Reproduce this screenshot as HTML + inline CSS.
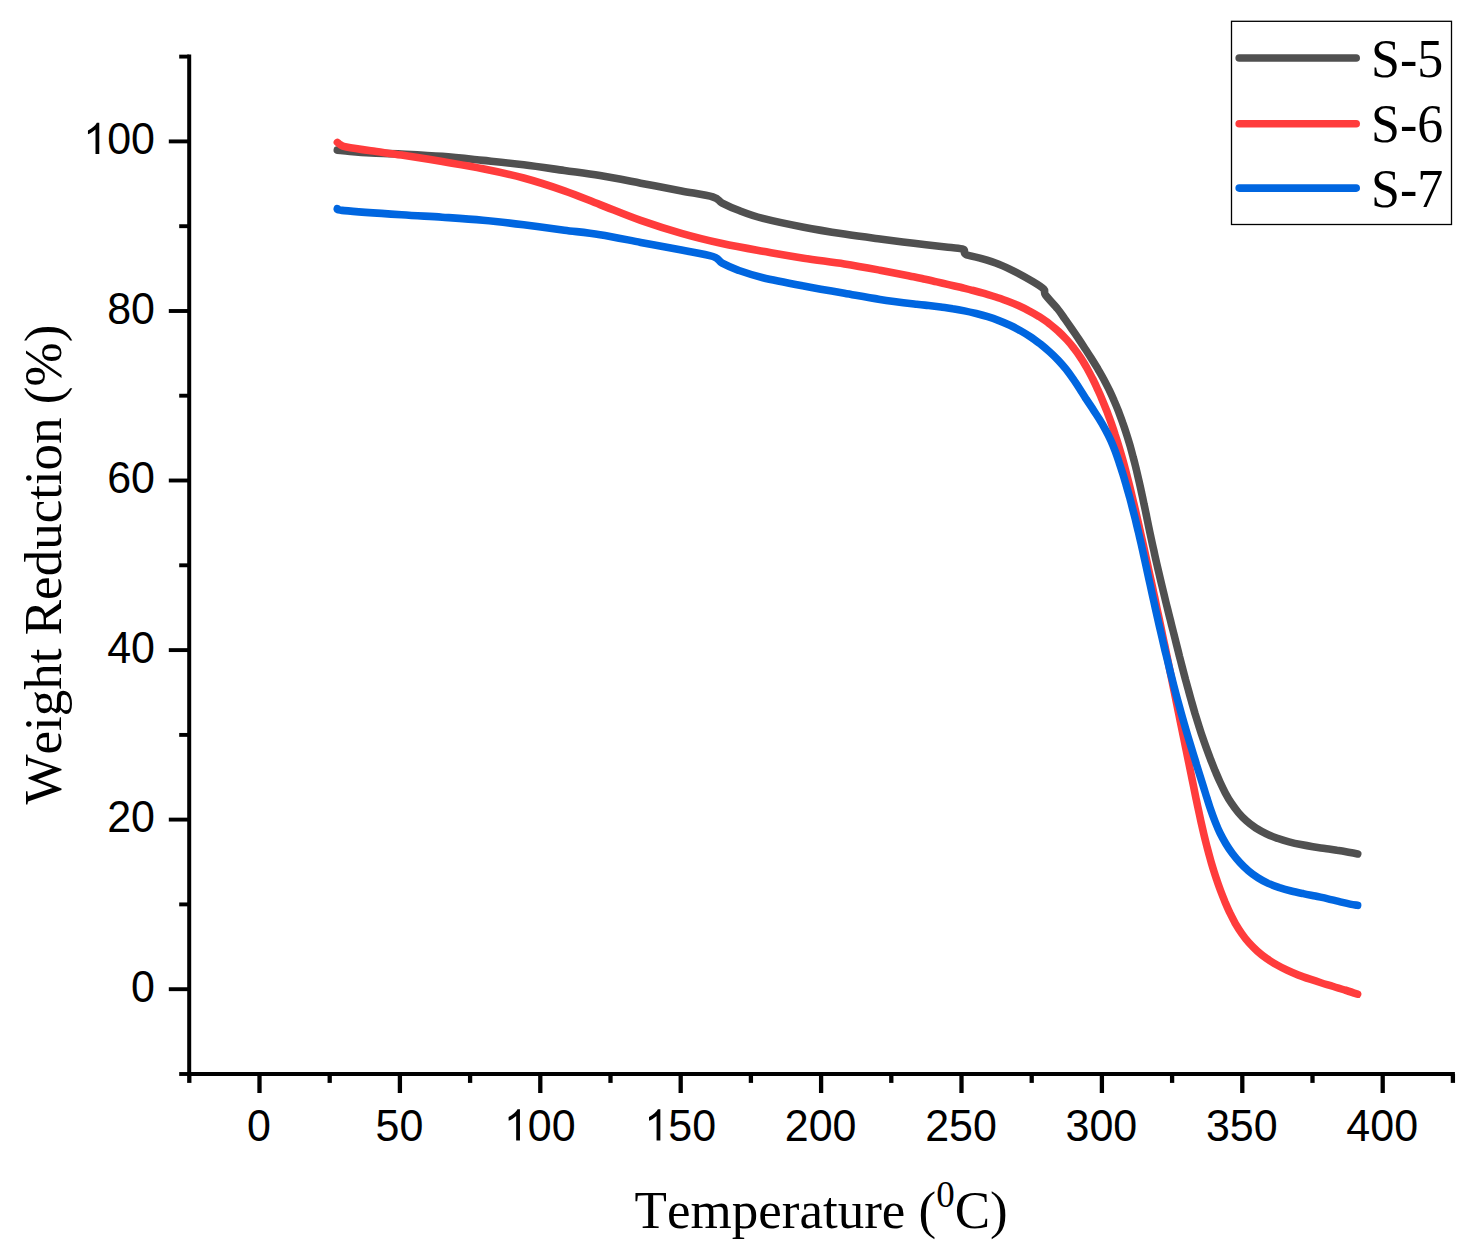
<!DOCTYPE html>
<html><head><meta charset="utf-8"><title>TGA</title>
<style>html,body{margin:0;padding:0;background:#fff}body{width:1473px;height:1253px;overflow:hidden;font-family:"Liberation Sans",sans-serif}svg{display:block;position:absolute;left:0;top:0}</style>
</head><body>
<svg width="1473" height="1253" viewBox="0 0 1473 1253">
<rect width="1473" height="1253" fill="#fff"/>
<g fill="none" stroke-width="7.6" stroke-linecap="round" stroke-linejoin="round">
<path stroke="#505050" d="M337.3,150.1 C339.4,150.3 344.4,151.0 350.0,151.5 C355.6,152.0 362.3,152.6 370.9,153.0 C379.5,153.4 389.6,153.4 401.5,154.0 C413.4,154.6 428.6,155.3 442.2,156.4 C455.8,157.5 469.3,159.0 482.9,160.4 C496.5,161.8 510.1,163.1 523.7,164.8 C537.3,166.5 551.7,168.7 564.4,170.5 C577.1,172.3 587.3,173.5 600.0,175.6 C612.7,177.7 627.1,180.6 640.7,183.2 C654.3,185.8 669.5,188.6 681.5,190.9 C693.5,193.2 706.2,195.0 713.0,197.0 C719.8,199.0 718.0,200.9 722.2,203.1 C726.5,205.3 731.7,207.8 738.5,210.3 C745.3,212.9 752.0,215.6 762.9,218.4 C773.8,221.2 790.1,224.6 803.7,227.2 C817.3,229.8 831.7,232.1 844.4,234.1 C857.1,236.1 868.4,237.5 880.0,239.0 C891.6,240.5 902.6,241.9 913.9,243.3 C925.2,244.7 939.7,246.2 947.9,247.2 C956.1,248.2 960.2,248.0 963.2,249.2 C966.2,250.4 962.6,252.7 965.7,254.3 C968.8,255.9 976.3,257.0 981.8,258.6 C987.3,260.2 993.1,261.9 998.8,264.2 C1004.5,266.4 1010.1,269.2 1015.8,272.1 C1021.4,275.0 1028.0,278.7 1032.7,281.5 C1037.4,284.3 1041.7,286.9 1043.8,289.1 C1045.9,291.4 1043.2,291.7 1045.5,295.0 C1047.8,298.3 1054.5,305.0 1057.7,309.0 C1060.9,312.9 1062.3,315.4 1064.6,318.7 C1066.9,321.9 1069.2,325.2 1071.5,328.5 C1073.8,331.8 1076.0,335.1 1078.3,338.4 C1080.5,341.8 1082.7,345.1 1084.9,348.5 C1087.1,351.8 1089.3,355.2 1091.5,358.6 C1093.6,362.0 1095.7,365.4 1097.8,368.8 C1099.8,372.3 1101.8,375.7 1103.7,379.2 C1105.6,382.7 1107.4,386.3 1109.2,389.9 C1110.9,393.5 1112.6,397.1 1114.1,400.8 C1115.7,404.4 1117.2,408.1 1118.7,411.8 C1120.1,415.5 1121.5,419.3 1122.8,423.1 C1124.2,426.8 1125.4,430.6 1126.6,434.4 C1127.8,438.2 1129.0,442.0 1130.1,445.8 C1131.2,449.7 1132.2,453.5 1133.2,457.4 C1134.3,461.2 1135.2,465.1 1136.2,469.0 C1137.1,472.9 1138.0,476.8 1138.9,480.7 C1139.8,484.6 1140.7,488.5 1141.5,492.4 C1142.4,496.3 1143.2,500.2 1144.0,504.2 C1144.9,508.1 1145.7,512.0 1146.5,515.9 C1147.3,519.9 1148.1,523.8 1148.9,527.7 C1149.7,531.7 1150.6,535.6 1151.4,539.5 C1152.2,543.4 1153.1,547.3 1154.0,551.2 C1154.8,555.2 1155.7,559.1 1156.6,563.0 C1157.5,566.9 1158.4,570.8 1159.3,574.7 C1160.2,578.6 1161.1,582.5 1162.1,586.4 C1163.0,590.2 1164.0,594.1 1164.9,598.0 C1165.8,601.9 1166.8,605.8 1167.8,609.7 C1168.7,613.5 1169.7,617.4 1170.7,621.3 C1171.6,625.2 1172.6,629.0 1173.6,632.9 C1174.6,636.8 1175.5,640.6 1176.5,644.5 C1177.5,648.4 1178.5,652.2 1179.4,656.1 C1180.4,660.0 1181.4,663.8 1182.4,667.7 C1183.4,671.6 1184.4,675.4 1185.4,679.3 C1186.5,683.1 1187.5,687.0 1188.6,690.8 C1189.6,694.7 1190.7,698.5 1191.8,702.4 C1192.9,706.2 1194.0,710.0 1195.1,713.9 C1196.3,717.7 1197.5,721.5 1198.7,725.3 C1199.9,729.1 1201.1,733.0 1202.4,736.8 C1203.7,740.6 1205.0,744.4 1206.4,748.1 C1207.8,751.9 1209.2,755.7 1210.6,759.5 C1212.1,763.3 1213.6,767.0 1215.1,770.8 C1216.7,774.5 1218.3,778.3 1220.0,782.0 C1221.7,785.7 1223.4,789.3 1225.3,792.9 C1227.2,796.4 1229.2,799.9 1231.4,803.2 C1233.6,806.5 1235.9,809.6 1238.4,812.6 C1240.9,815.6 1243.6,818.4 1246.5,820.9 C1249.4,823.5 1252.5,825.8 1255.8,828.0 C1259.1,830.1 1262.6,832.0 1266.2,833.7 C1269.8,835.4 1273.6,837.0 1277.4,838.3 C1281.2,839.7 1285.1,840.9 1289.0,841.9 C1292.9,842.9 1296.9,843.8 1300.9,844.6 C1304.9,845.4 1308.9,846.1 1312.9,846.7 C1317.0,847.4 1321.0,847.9 1325.0,848.5 C1329.0,849.1 1333.0,849.6 1336.9,850.3 C1340.8,850.9 1345.0,851.6 1348.5,852.2 C1352.0,852.8 1356.2,853.6 1357.7,853.9"/>
<path stroke="#ff3c3c" d="M337.4,142.4 C337.9,142.8 339.0,144.0 340.5,144.8 C342.0,145.6 341.4,146.0 346.5,147.0 C351.6,148.0 361.7,149.5 370.9,150.8 C380.1,152.2 389.6,153.3 401.5,155.1 C413.4,156.9 428.6,159.3 442.2,161.6 C455.8,163.9 469.3,166.0 482.9,168.7 C496.5,171.4 510.1,174.3 523.7,178.0 C537.3,181.7 551.7,186.4 564.4,190.8 C577.1,195.2 587.3,199.7 600.0,204.6 C612.7,209.5 627.1,215.6 640.7,220.4 C654.3,225.2 667.9,229.5 681.5,233.3 C695.1,237.2 708.6,240.5 722.2,243.5 C735.8,246.5 749.3,248.8 762.9,251.2 C776.5,253.6 790.1,256.1 803.7,258.2 C817.3,260.3 831.7,262.0 844.4,264.0 C857.1,266.0 868.5,268.1 880.0,270.2 C891.5,272.3 906.1,275.3 913.6,276.8 C921.1,278.3 921.4,278.5 925.2,279.3 C929.1,280.2 933.0,281.1 936.9,281.9 C940.8,282.8 944.7,283.7 948.6,284.6 C952.6,285.5 956.5,286.4 960.5,287.3 C964.4,288.3 968.4,289.2 972.3,290.3 C976.3,291.3 980.2,292.3 984.1,293.4 C988.0,294.6 991.9,295.7 995.8,297.0 C999.6,298.2 1003.4,299.6 1007.2,301.0 C1010.9,302.4 1014.7,303.9 1018.3,305.5 C1022.0,307.2 1025.5,308.9 1029.0,310.8 C1032.5,312.6 1036.0,314.6 1039.3,316.7 C1042.6,318.9 1045.9,321.1 1049.0,323.5 C1052.2,325.9 1055.2,328.5 1058.2,331.1 C1061.1,333.8 1063.9,336.6 1066.6,339.5 C1069.3,342.4 1071.8,345.4 1074.2,348.6 C1076.7,351.7 1078.9,355.0 1081.1,358.4 C1083.3,361.7 1085.3,365.2 1087.3,368.7 C1089.2,372.2 1091.1,375.7 1092.9,379.3 C1094.7,382.9 1096.4,386.5 1098.0,390.2 C1099.7,393.8 1101.3,397.5 1102.8,401.2 C1104.3,404.9 1105.8,408.6 1107.3,412.3 C1108.7,416.0 1110.1,419.8 1111.4,423.6 C1112.7,427.3 1114.0,431.1 1115.2,434.9 C1116.5,438.7 1117.7,442.5 1118.8,446.3 C1120.0,450.2 1121.1,454.0 1122.2,457.9 C1123.3,461.7 1124.3,465.6 1125.4,469.5 C1126.4,473.3 1127.4,477.2 1128.4,481.1 C1129.4,485.0 1130.3,488.9 1131.3,492.8 C1132.2,496.7 1133.1,500.6 1134.1,504.5 C1135.0,508.4 1135.9,512.3 1136.8,516.2 C1137.7,520.1 1138.6,524.0 1139.5,527.9 C1140.4,531.8 1141.2,535.7 1142.1,539.6 C1143.0,543.5 1143.9,547.4 1144.7,551.3 C1145.6,555.3 1146.4,559.2 1147.3,563.1 C1148.1,567.0 1149.0,570.9 1149.8,574.8 C1150.7,578.7 1151.5,582.6 1152.4,586.5 C1153.2,590.4 1154.0,594.3 1154.9,598.2 C1155.7,602.1 1156.5,606.0 1157.3,609.9 C1158.1,613.9 1159.0,617.8 1159.8,621.7 C1160.6,625.6 1161.4,629.5 1162.2,633.4 C1163.0,637.3 1163.8,641.2 1164.7,645.1 C1165.5,649.0 1166.3,652.9 1167.1,656.8 C1167.9,660.8 1168.7,664.7 1169.5,668.6 C1170.3,672.5 1171.1,676.4 1171.9,680.3 C1172.7,684.2 1173.5,688.1 1174.3,692.0 C1175.1,696.0 1175.9,699.9 1176.7,703.8 C1177.5,707.7 1178.3,711.6 1179.1,715.5 C1179.9,719.4 1180.7,723.4 1181.5,727.3 C1182.3,731.2 1183.1,735.1 1183.9,739.0 C1184.7,742.9 1185.5,746.9 1186.3,750.8 C1187.1,754.7 1187.9,758.6 1188.7,762.5 C1189.5,766.5 1190.3,770.4 1191.1,774.3 C1191.9,778.2 1192.7,782.2 1193.5,786.1 C1194.3,790.0 1195.1,794.0 1195.9,797.9 C1196.7,801.8 1197.5,805.8 1198.4,809.7 C1199.2,813.6 1200.1,817.5 1200.9,821.4 C1201.8,825.4 1202.7,829.3 1203.6,833.2 C1204.5,837.1 1205.5,841.0 1206.5,844.9 C1207.5,848.7 1208.5,852.6 1209.6,856.5 C1210.6,860.3 1211.7,864.2 1212.9,868.0 C1214.1,871.8 1215.3,875.7 1216.6,879.4 C1217.8,883.2 1219.2,887.0 1220.6,890.8 C1222.0,894.5 1223.5,898.2 1225.0,901.9 C1226.6,905.6 1228.2,909.3 1229.9,912.9 C1231.7,916.5 1233.5,920.1 1235.4,923.6 C1237.4,927.0 1239.5,930.4 1241.8,933.6 C1244.0,936.8 1246.4,939.9 1249.0,942.8 C1251.6,945.7 1254.4,948.5 1257.3,951.1 C1260.2,953.7 1263.3,956.1 1266.5,958.4 C1269.8,960.7 1273.1,962.8 1276.6,964.8 C1280.0,966.8 1283.6,968.6 1287.3,970.3 C1290.9,972.0 1294.7,973.6 1298.5,975.1 C1302.3,976.6 1306.2,977.9 1310.1,979.2 C1313.9,980.5 1317.9,981.8 1321.7,983.0 C1325.6,984.2 1329.6,985.3 1333.4,986.5 C1337.2,987.7 1341.1,988.8 1344.8,990.0 C1348.5,991.1 1353.7,992.9 1355.8,993.6 C1357.9,994.3 1357.3,994.1 1357.6,994.2"/>
<path stroke="#0066e0" d="M337.3,208.6 C338.5,208.9 333.7,209.6 344.4,210.6 C355.1,211.6 385.2,213.7 401.5,214.8 C417.8,215.9 428.6,216.3 442.2,217.2 C455.8,218.1 469.3,218.9 482.9,220.2 C496.5,221.5 510.1,223.1 523.7,224.8 C537.3,226.5 551.7,228.5 564.4,230.2 C577.1,231.8 587.3,232.7 600.0,234.7 C612.7,236.7 627.1,239.8 640.7,242.4 C654.3,245.0 669.5,247.7 681.5,250.0 C693.5,252.3 706.2,254.3 713.0,256.5 C719.8,258.7 718.0,260.9 722.2,263.2 C726.5,265.5 731.7,267.9 738.5,270.3 C745.3,272.7 752.0,275.1 762.9,277.7 C773.8,280.3 790.1,283.4 803.7,286.0 C817.3,288.6 831.7,291.1 844.4,293.3 C857.1,295.5 868.0,297.6 880.0,299.4 C892.0,301.2 908.5,303.2 916.6,304.2 C924.8,305.2 924.7,305.0 928.7,305.5 C932.7,306.0 936.7,306.5 940.7,307.0 C944.7,307.6 948.7,308.1 952.7,308.8 C956.7,309.4 960.6,310.1 964.5,310.9 C968.5,311.7 972.4,312.6 976.2,313.5 C980.1,314.5 983.9,315.5 987.7,316.7 C991.5,317.9 995.2,319.2 998.9,320.6 C1002.6,322.0 1006.3,323.6 1009.9,325.3 C1013.5,327.0 1017.0,328.8 1020.5,330.8 C1023.9,332.7 1027.3,334.8 1030.7,337.0 C1034.0,339.2 1037.2,341.6 1040.4,344.0 C1043.5,346.5 1046.6,349.1 1049.5,351.8 C1052.5,354.5 1055.4,357.3 1058.1,360.2 C1060.8,363.1 1063.5,366.1 1066.0,369.2 C1068.5,372.4 1070.8,375.6 1073.1,378.9 C1075.4,382.2 1077.6,385.6 1079.8,389.0 C1082.0,392.4 1084.1,395.8 1086.2,399.2 C1088.4,402.5 1090.7,405.9 1092.9,409.2 C1095.0,412.6 1097.3,415.9 1099.4,419.3 C1101.5,422.7 1103.5,426.1 1105.4,429.6 C1107.3,433.1 1109.1,436.6 1110.8,440.3 C1112.4,443.9 1113.9,447.6 1115.3,451.3 C1116.7,455.1 1118.0,458.9 1119.2,462.7 C1120.5,466.5 1121.7,470.3 1122.9,474.1 C1124.1,477.9 1125.2,481.8 1126.3,485.6 C1127.4,489.4 1128.5,493.3 1129.6,497.1 C1130.6,501.0 1131.6,504.8 1132.6,508.7 C1133.6,512.6 1134.6,516.4 1135.6,520.3 C1136.5,524.2 1137.4,528.1 1138.4,532.0 C1139.3,535.9 1140.2,539.8 1141.1,543.7 C1142.0,547.6 1142.8,551.5 1143.7,555.4 C1144.6,559.3 1145.4,563.2 1146.3,567.1 C1147.1,571.0 1148.0,574.9 1148.8,578.8 C1149.7,582.7 1150.6,586.7 1151.4,590.6 C1152.3,594.5 1153.1,598.4 1154.0,602.3 C1154.9,606.2 1155.7,610.1 1156.6,614.0 C1157.5,618.0 1158.4,621.9 1159.3,625.8 C1160.2,629.7 1161.1,633.6 1162.0,637.5 C1162.9,641.4 1163.8,645.3 1164.7,649.2 C1165.7,653.1 1166.6,657.0 1167.6,660.8 C1168.5,664.7 1169.5,668.6 1170.4,672.5 C1171.4,676.4 1172.4,680.2 1173.4,684.1 C1174.4,688.0 1175.4,691.9 1176.4,695.7 C1177.5,699.6 1178.5,703.4 1179.6,707.3 C1180.6,711.1 1181.7,715.0 1182.8,718.8 C1183.9,722.6 1185.0,726.5 1186.1,730.3 C1187.2,734.1 1188.4,737.9 1189.5,741.7 C1190.7,745.5 1191.8,749.4 1193.0,753.2 C1194.2,757.0 1195.4,760.8 1196.5,764.6 C1197.7,768.4 1198.9,772.2 1200.1,776.1 C1201.3,779.9 1202.5,783.7 1203.7,787.6 C1204.9,791.4 1206.0,795.3 1207.3,799.1 C1208.5,802.9 1209.7,806.8 1211.0,810.6 C1212.3,814.4 1213.7,818.2 1215.2,821.9 C1216.7,825.7 1218.2,829.4 1220.0,833.0 C1221.8,836.6 1223.7,840.1 1225.7,843.5 C1227.8,847.0 1230.0,850.3 1232.4,853.5 C1234.8,856.7 1237.3,859.7 1240.0,862.6 C1242.6,865.5 1245.5,868.2 1248.5,870.8 C1251.4,873.3 1254.6,875.6 1257.9,877.7 C1261.2,879.8 1264.6,881.7 1268.2,883.4 C1271.8,885.0 1275.6,886.4 1279.4,887.7 C1283.2,888.9 1287.2,890.0 1291.2,891.0 C1295.1,892.0 1299.2,892.8 1303.2,893.6 C1307.2,894.5 1311.3,895.2 1315.3,896.0 C1319.3,896.9 1323.2,897.7 1327.1,898.6 C1331.0,899.5 1334.8,900.5 1338.6,901.4 C1342.4,902.3 1346.8,903.4 1350.0,904.1 C1353.2,904.8 1356.3,905.1 1357.6,905.3"/>
</g>
<g stroke="#000" stroke-width="4" fill="none" stroke-linecap="butt">
<path d="M189.2,54.6 V1076.1"/>
<path d="M187.2,1074.1 H1454.9"/>
<path stroke-width="3.9" d="M189.2,1074.0 H179.2"/>
<path stroke-width="3.9" d="M189.2,989.2 H168.8"/>
<path stroke-width="3.9" d="M189.2,904.4 H179.2"/>
<path stroke-width="3.9" d="M189.2,819.6 H168.8"/>
<path stroke-width="3.9" d="M189.2,734.9 H179.2"/>
<path stroke-width="3.9" d="M189.2,650.1 H168.8"/>
<path stroke-width="3.9" d="M189.2,565.3 H179.2"/>
<path stroke-width="3.9" d="M189.2,480.5 H168.8"/>
<path stroke-width="3.9" d="M189.2,395.7 H179.2"/>
<path stroke-width="3.9" d="M189.2,311.0 H168.8"/>
<path stroke-width="3.9" d="M189.2,226.2 H179.2"/>
<path stroke-width="3.9" d="M189.2,141.4 H168.8"/>
<path stroke-width="3.9" d="M189.2,56.6 H179.2"/>
<path stroke-width="4.3" d="M189.3,1074.1 V1082.9"/>
<path stroke-width="4.3" d="M259.5,1074.1 V1093.0"/>
<path stroke-width="4.3" d="M329.7,1074.1 V1082.9"/>
<path stroke-width="4.3" d="M399.9,1074.1 V1093.0"/>
<path stroke-width="4.3" d="M470.1,1074.1 V1082.9"/>
<path stroke-width="4.3" d="M540.3,1074.1 V1093.0"/>
<path stroke-width="4.3" d="M610.5,1074.1 V1082.9"/>
<path stroke-width="4.3" d="M680.7,1074.1 V1093.0"/>
<path stroke-width="4.3" d="M750.9,1074.1 V1082.9"/>
<path stroke-width="4.3" d="M821.1,1074.1 V1093.0"/>
<path stroke-width="4.3" d="M891.3,1074.1 V1082.9"/>
<path stroke-width="4.3" d="M961.5,1074.1 V1093.0"/>
<path stroke-width="4.3" d="M1031.7,1074.1 V1082.9"/>
<path stroke-width="4.3" d="M1101.9,1074.1 V1093.0"/>
<path stroke-width="4.3" d="M1172.1,1074.1 V1082.9"/>
<path stroke-width="4.3" d="M1242.3,1074.1 V1093.0"/>
<path stroke-width="4.3" d="M1312.5,1074.1 V1082.9"/>
<path stroke-width="4.3" d="M1382.7,1074.1 V1093.0"/>
<path stroke-width="4.3" d="M1452.9,1074.1 V1082.9"/>
</g>
<g font-family="'Liberation Sans', sans-serif" font-size="43" fill="#000">
<text transform="translate(131.09,1001.8) scale(1,1.045)">0</text>
<text transform="translate(107.17,832.2) scale(1,1.045)">20</text>
<text transform="translate(107.17,662.7) scale(1,1.045)">40</text>
<text transform="translate(107.17,493.1) scale(1,1.045)">60</text>
<text transform="translate(107.17,323.6) scale(1,1.045)">80</text>
<path transform="translate(83.26,154.0) scale(0.02100,-0.02131)" d="M763 0H583V1147Q518 1085 412.5 1023T223 930V1104Q374 1175 487 1276T647 1472H763Z" stroke="none"/>
<text transform="translate(107.17,154.0) scale(1,1.045)">00</text>
<text transform="translate(247.04,1140.5) scale(1,1.045)">0</text>
<text transform="translate(375.49,1140.5) scale(1,1.045)">50</text>
<path transform="translate(503.93,1140.5) scale(0.02100,-0.02131)" d="M763 0H583V1147Q518 1085 412.5 1023T223 930V1104Q374 1175 487 1276T647 1472H763Z" stroke="none"/>
<text transform="translate(527.84,1140.5) scale(1,1.045)">00</text>
<path transform="translate(644.33,1140.5) scale(0.02100,-0.02131)" d="M763 0H583V1147Q518 1085 412.5 1023T223 930V1104Q374 1175 487 1276T647 1472H763Z" stroke="none"/>
<text transform="translate(668.24,1140.5) scale(1,1.045)">50</text>
<text transform="translate(784.73,1140.5) scale(1,1.045)">200</text>
<text transform="translate(925.13,1140.5) scale(1,1.045)">250</text>
<text transform="translate(1065.53,1140.5) scale(1,1.045)">300</text>
<text transform="translate(1205.93,1140.5) scale(1,1.045)">350</text>
<text transform="translate(1346.33,1140.5) scale(1,1.045)">400</text>
</g>
<g font-family="'Liberation Serif', serif" font-size="53" fill="#000" style="font-kerning:none">
<text x="634.6" y="1228.1">Temperature (<tspan font-size="37" dy="-21">0</tspan><tspan dy="21">C)</tspan></text>
<text transform="translate(61.1,564.6) rotate(-90)" text-anchor="middle">Weight Reduction (%)</text>
</g>
<rect x="1231.5" y="21.3" width="220" height="203.2" fill="#fff" stroke="#000" stroke-width="1.3"/>
<g stroke-width="7.6" stroke-linecap="round">
<path stroke="#505050" d="M1239.2,58.0 H1356.2"/>
<path stroke="#ff3c3c" d="M1239.2,123.7 H1356.2"/>
<path stroke="#0066e0" d="M1239.2,188.1 H1356.2"/>
</g>
<g font-family="'Liberation Serif', serif" font-size="52" fill="#000" style="font-kerning:none">
<text transform="translate(1371,77.3) scale(1,1.075)">S-5</text>
<text transform="translate(1371,142.0) scale(1,1.075)">S-6</text>
<text transform="translate(1371,207.0) scale(1,1.075)">S-7</text>
</g>
</svg>
</body></html>
